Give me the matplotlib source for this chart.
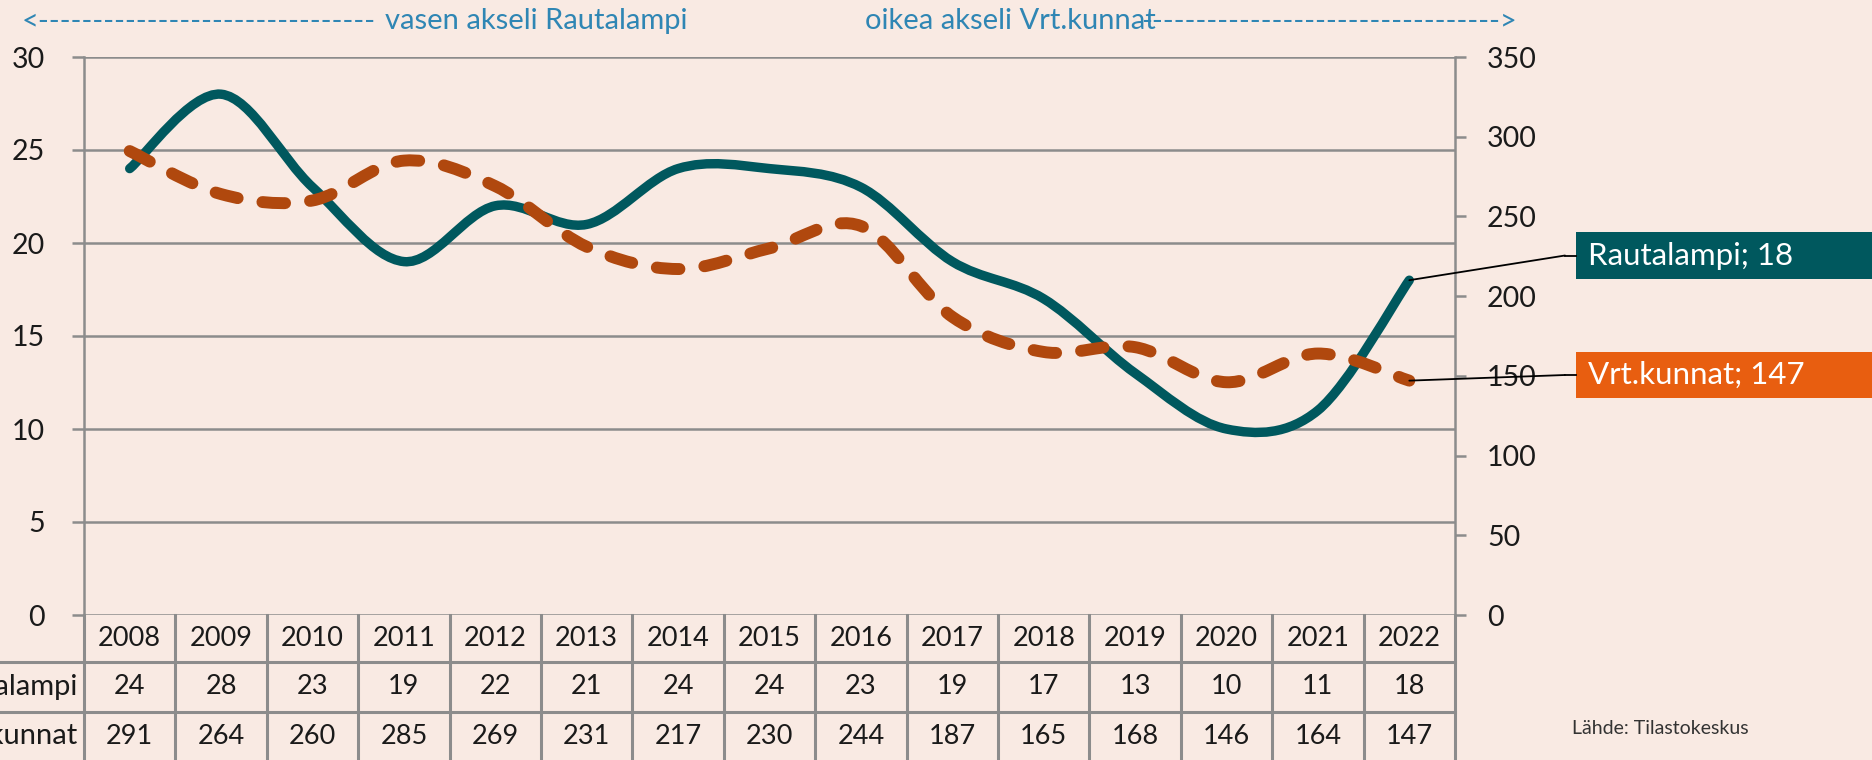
import numpy as np
import matplotlib.pyplot as plt
from matplotlib.path import Path
from matplotlib.patches import PathPatch, Rectangle, ConnectionPatch
from matplotlib.lines import Line2D
from matplotlib.text import Text
from matplotlib.transforms import blended_transform_factory

# data
years = [2008, 2009, 2010, 2011, 2012, 2013, 2014, 2015,
         2016, 2017, 2018, 2019, 2020, 2021, 2022]
rautalampi = [24, 28, 23, 19, 22, 21, 24, 24, 23, 19, 17, 13, 10, 11, 18]
vrt_kunnat = [291, 264, 260, 285, 269, 231, 217, 230, 244, 187, 165, 168, 146, 164, 147]
left_ticks = [0, 5, 10, 15, 20, 25, 30]
right_ticks = [0, 50, 100, 150, 200, 250, 300, 350]
row_labels = ["Rautalampi", "Vrt.kunnat"]

BG = "#F9EAE3"
TEAL = "#00585E"
ORANGE_LINE = "#B0480E"
ORANGE_BOX = "#E85E10"
BLUE = "#2F86B4"
GRID = "#8C8C8C"
TXT = "#1A1A1A"

plt.rcParams["font.family"] = ["Lato", "DejaVu Sans"]

W, H = 1872, 760


def fx(px):
    return px / W


def fy(py):
    return 1 - py / H


def smooth_path(xs, ys):
    """Excel-style smoothed line as cubic Bezier segments through the points."""
    pts = np.column_stack([xs, ys]).astype(float)
    padded = np.vstack([pts[0], pts, pts[-1]])
    verts = [pts[0]]
    codes = [Path.MOVETO]
    for i in range(len(pts) - 1):
        p0, p1, p2, p3 = padded[i], padded[i + 1], padded[i + 2], padded[i + 3]
        verts += [p1 + (p2 - p0) / 6, p2 - (p3 - p1) / 6, p2]
        codes += [Path.CURVE4] * 3
    return Path(verts, codes)


fig = plt.figure(figsize=(W / 100, H / 100), dpi=100, facecolor=BG)

X0, X1, Y0, Y1 = 84, 1455, 57, 615
ax = fig.add_axes([fx(X0), fy(Y1), (X1 - X0) / W, (Y1 - Y0) / H])
ax.set_facecolor(BG)
ax2 = ax.twinx()

xpos = np.arange(len(years))
ax.set_xlim(-0.5, len(years) - 0.5)
ax.set_ylim(0, 30)
ax2.set_ylim(0, 350)
ax.set_yticks(left_ticks)
ax2.set_yticks(right_ticks)

ax.yaxis.grid(True, color=GRID, linewidth=1.8)
ax.set_axisbelow(True)
for a in (ax, ax2):
    for s in a.spines.values():
        s.set_visible(False)
    a.tick_params(axis="x", bottom=False, labelbottom=False)
ax.spines["left"].set_visible(True)
ax.spines["left"].set_color(GRID)
ax.spines["left"].set_linewidth(1.8)
ax2.spines["right"].set_visible(True)
ax2.spines["right"].set_color(GRID)
ax2.spines["right"].set_linewidth(1.8)
ax.tick_params(axis="y", length=9, width=1.8, color=GRID, pad=19,
               labelsize=20.5, labelcolor=TXT)
ax2.tick_params(axis="y", length=8, width=1.8, color=GRID, pad=15,
                labelsize=20.5, labelcolor=TXT)

# smoothed series
ax.add_patch(PathPatch(smooth_path(xpos, rautalampi), fill=False,
                       edgecolor=TEAL, linewidth=6.8, capstyle="round",
                       joinstyle="round", clip_on=False, zorder=3))
ax2.add_patch(PathPatch(smooth_path(xpos, vrt_kunnat), fill=False,
                        edgecolor=ORANGE_LINE, linewidth=8.6,
                        linestyle=(0, (1.9, 2.1)), capstyle="round",
                        joinstyle="round", clip_on=False, zorder=4))

# data table under the plot
tr = blended_transform_factory(ax.transData, fig.transFigure)
row_edges = [Y1, 662, 712, 760]
for i in range(len(years) + 1):
    fig.add_artist(Line2D([i - 0.5, i - 0.5], [fy(Y1), fy(760)], transform=tr,
                          color=GRID, linewidth=2.2))
for yb in row_edges[1:3]:
    fig.add_artist(Line2D([0, fx(X1)], [fy(yb), fy(yb)], transform=fig.transFigure,
                          color=GRID, linewidth=2.2))

rows = [years, rautalampi, vrt_kunnat]
for r, vals in enumerate(rows):
    yc = fy((row_edges[r] + row_edges[r + 1]) / 2)
    for i, v in enumerate(vals):
        fig.add_artist(Text(i, yc, str(v), transform=tr, ha="center",
                            va="center", fontsize=19.5, color=TXT))
for r, lab in enumerate(row_labels):
    yc = fy((row_edges[r + 1] + row_edges[r + 2]) / 2)
    fig.text(fx(78), yc, lab, ha="right", va="center", fontsize=21, color=TXT)

# axis hints at the top
fig.text(fx(22), fy(21), "<" + "-" * 31, color=BLUE, fontsize=21, va="center")
fig.text(fx(385), fy(21), "vasen akseli Rautalampi", color=BLUE, fontsize=21, va="center")
fig.text(fx(865), fy(21), "oikea akseli Vrt.kunnat", color=BLUE, fontsize=21, va="center")
fig.text(fx(1517), fy(21), "-" * 33 + ">", color=BLUE, fontsize=21, va="center", ha="right")

# end labels with leader lines
labels = [
    (ax, rautalampi[-1], f"Rautalampi; {rautalampi[-1]}", TEAL, 232, 279),
    (ax2, vrt_kunnat[-1], f"Vrt.kunnat; {vrt_kunnat[-1]}", ORANGE_BOX, 352, 398),
]
for a, val, text, col, top, bot in labels:
    ymid = (top + bot) / 2
    fig.add_artist(Rectangle((fx(1576), fy(bot)), 1 - fx(1576), (bot - top) / H,
                             transform=fig.transFigure, facecolor=col,
                             edgecolor="none"))
    fig.text(fx(1588), fy(ymid), text, color="white", fontsize=22.5, va="center")
    fig.add_artist(ConnectionPatch(xyA=(len(years) - 1, val), coordsA=a.transData,
                                   xyB=(fx(1565), fy(ymid)), coordsB=fig.transFigure,
                                   color="black", linewidth=1.3, zorder=5))
    fig.add_artist(Line2D([fx(1565), fx(1576)], [fy(ymid), fy(ymid)],
                          transform=fig.transFigure, color="black", linewidth=1.3))

fig.text(fx(1572), fy(728), "Lähde: Tilastokeskus", color="#333333", fontsize=14,
         va="center")

fig.savefig("out.png", dpi=100, facecolor=BG)
